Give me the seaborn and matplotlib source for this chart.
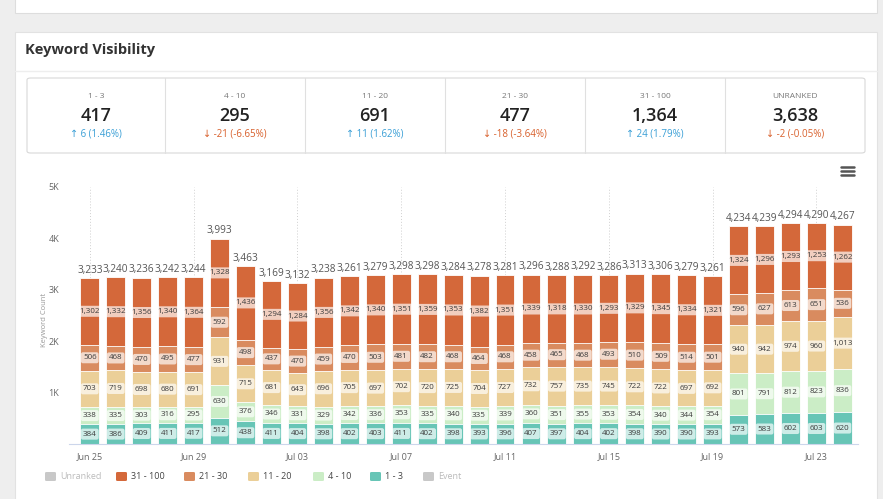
import numpy as np
import pandas as pd
import seaborn as sns
import matplotlib.pyplot as plt
from matplotlib.patches import Rectangle, FancyBboxPatch
from matplotlib.lines import Line2D
from matplotlib.ticker import FuncFormatter

W, H = 883, 499

# keyword counts per ranking bucket, one value per day (Jun 25 - Jul 24)
rank_1_3 = [384, 386, 409, 411, 417, 512, 438, 411, 404, 398, 402, 403, 411, 402, 398,
            393, 396, 407, 397, 404, 402, 398, 390, 390, 393, 573, 583, 602, 603, 620]
rank_4_10 = [338, 335, 303, 316, 295, 630, 376, 346, 331, 329, 342, 336, 353, 335, 340,
             335, 339, 360, 351, 355, 353, 354, 340, 344, 354, 801, 791, 812, 823, 836]
rank_11_20 = [703, 719, 698, 680, 691, 931, 715, 681, 643, 696, 705, 697, 702, 720, 725,
              704, 727, 732, 757, 735, 745, 722, 722, 697, 692, 940, 942, 974, 960, 1013]
rank_21_30 = [506, 468, 470, 495, 477, 592, 498, 437, 470, 459, 470, 503, 481, 482, 468,
              464, 468, 458, 465, 468, 493, 510, 509, 514, 501, 596, 627, 613, 651, 536]
rank_31_100 = [1302, 1332, 1356, 1340, 1364, 1328, 1436, 1294, 1284, 1356, 1342, 1340, 1351, 1359, 1353,
               1382, 1351, 1339, 1318, 1330, 1293, 1329, 1345, 1334, 1321, 1324, 1296, 1293, 1253, 1262]

tick_pos = [0, 4, 8, 12, 16, 20, 24, 28]
tick_labels = ["Jun 25", "Jun 29", "Jul 03", "Jul 07", "Jul 11", "Jul 15", "Jul 19", "Jul 23"]

summary_labels = ["1 - 3", "4 - 10", "11 - 20", "21 - 30", "31 - 100", "UNRANKED"]
summary_values = [417, 295, 691, 477, 1364, 3638]
summary_changes = [6, -21, 11, -18, 24, -2]
summary_pcts = [1.46, -6.65, 1.62, -3.64, 1.79, -0.05]

ranks = ["1 - 3", "4 - 10", "11 - 20", "21 - 30", "31 - 100"]
colors = {"31 - 100": "#d4683a", "21 - 30": "#d98b5f", "11 - 20": "#ebcf98",
          "4 - 10": "#cbedc6", "1 - 3": "#67c5b6"}


def fx(x):
    return x / W


def fy(y):
    return 1 - y / H


def main():
    df = pd.DataFrame({
        "1 - 3": rank_1_3,
        "4 - 10": rank_4_10,
        "11 - 20": rank_11_20,
        "21 - 30": rank_21_30,
        "31 - 100": rank_31_100,
    })
    df["day"] = pd.date_range("2018-06-25", periods=len(df)).strftime("%b %d")

    sns.set_style("white")
    plt.rcParams["font.family"] = ["Open Sans", "DejaVu Sans"]

    fig = plt.figure(figsize=(W / 100, H / 100), dpi=100)
    fig.patch.set_facecolor("#eeeeee")

    # dashboard cards
    fig.patches.append(Rectangle((fx(15), fy(13)), fx(862), 20 / H, transform=fig.transFigure,
                                 facecolor="white", edgecolor="#dddddd", lw=0.8, zorder=-5))
    fig.patches.append(Rectangle((fx(15), fy(505)), fx(862), 473 / H, transform=fig.transFigure,
                                 facecolor="white", edgecolor="#e2e2e2", lw=0.8, zorder=-5))
    fig.lines.append(Line2D([fx(15), fx(877)], [fy(71), fy(71)], transform=fig.transFigure,
                            color="#eeeeee", lw=1))
    fig.text(fx(25), fy(50), "Keyword Visibility", fontsize=10.5, fontweight="bold",
             color="#333333", va="center")

    # summary strip
    fig.patches.append(FancyBboxPatch((fx(27), fy(153)), fx(838), 75 / H, transform=fig.transFigure,
                                      boxstyle="round,pad=0,rounding_size=0.004",
                                      facecolor="white", edgecolor="#d8d8d8", lw=0.8))
    dividers = [165, 305, 445, 585, 725]
    for d in dividers:
        fig.lines.append(Line2D([fx(d), fx(d)], [fy(78), fy(153)], transform=fig.transFigure,
                                color="#e0e0e0", lw=0.8))
    edges = [27] + dividers + [865]
    for i, lab in enumerate(summary_labels):
        cx = (edges[i] + edges[i + 1]) / 2
        fig.text(fx(cx), fy(96), lab, fontsize=6, color="#777777", ha="center", va="center")
        fig.text(fx(cx), fy(116), f"{summary_values[i]:,}", fontsize=13, fontweight="semibold",
                 color="#222222", ha="center", va="center")
        ch = summary_changes[i]
        up = ch > 0
        arrow = "↑" if up else "↓"
        col = "#3a9fd6" if up else "#d8602c"
        fig.text(fx(cx), fy(134), f"{arrow} {ch} ({summary_pcts[i]:.2f}%)", fontsize=7,
                 color=col, ha="center", va="center")

    # chart
    ax = fig.add_axes([fx(69), fy(444), fx(858 - 69), (444 - 187) / H])
    ax.set_zorder(5)
    ax.patch.set_alpha(0)

    cums = []
    cum = np.zeros(len(df))
    for r in ranks:
        cum = cum + df[r].to_numpy()
        cums.append(cum.copy())

    for r, c in reversed(list(zip(ranks, cums))):
        sns.barplot(x=df["day"], y=c, color=colors[r], width=0.73, errorbar=None,
                    saturation=1, edgecolor="white", linewidth=0.6, ax=ax)

    for t in tick_pos:
        ax.axvline(t, color="#cfcfcf", lw=0.7, ls=(0, (1, 2)), zorder=0)

    bottoms = np.zeros(len(df))
    for r in ranks:
        vals = df[r].to_numpy()
        for i, v in enumerate(vals):
            ax.text(i, bottoms[i] + v / 2, f"{v:,}", ha="center", va="center", fontsize=5.8,
                    color="#3c3c3c", zorder=5,
                    bbox=dict(boxstyle="round,pad=0.25", fc="white", ec="none", alpha=0.68))
        bottoms = bottoms + vals
    for i, tot in enumerate(bottoms):
        ax.text(i, tot + 45, f"{int(tot):,}", ha="center", va="bottom", fontsize=7.2,
                color="#555555", zorder=5)

    ax.set_xlim(-0.8, 29.6)
    ax.set_ylim(0, 5000)
    ax.set_yticks([1000, 2000, 3000, 4000, 5000])
    ax.yaxis.set_major_formatter(FuncFormatter(lambda v, p: f"{int(v / 1000)}K"))
    ax.set_xticks(tick_pos)
    ax.set_xticklabels(tick_labels)
    ax.set_xlabel("")
    ax.set_ylabel("")
    for s in ["top", "right", "left"]:
        ax.spines[s].set_visible(False)
    ax.spines["bottom"].set_color("#ccd6eb")
    ax.spines["bottom"].set_linewidth(0.8)
    ax.tick_params(axis="y", length=5, color="#cccccc", labelsize=6.5, labelcolor="#666666", pad=2)
    ax.tick_params(axis="x", length=2, color="#cccccc", labelsize=6.5, labelcolor="#666666", pad=4)

    fig.text(fx(44), fy(320), "Keyword Count", rotation=90, fontsize=5.5, color="#999999",
             ha="center", va="center")

    # menu icon
    for yy in [167, 171, 175]:
        fig.lines.append(Line2D([fx(841), fx(854)], [fy(yy), fy(yy)], transform=fig.transFigure,
                                color="#555555", lw=1.8))

    # legend
    legend_items = [("Unranked", "#c8c8c8", 45, "#bbbbbb"), ("31 - 100", colors["31 - 100"], 116, "#444444"),
                    ("21 - 30", colors["21 - 30"], 184, "#444444"), ("11 - 20", colors["11 - 20"], 248, "#444444"),
                    ("4 - 10", colors["4 - 10"], 313, "#444444"), ("1 - 3", colors["1 - 3"], 370, "#444444"),
                    ("Event", "#c8c8c8", 423, "#bbbbbb")]
    for lab, c, x0, tc in legend_items:
        fig.patches.append(FancyBboxPatch((fx(x0), fy(481)), fx(11), 9 / H, transform=fig.transFigure,
                                          boxstyle="round,pad=0,rounding_size=0.002",
                                          facecolor=c, edgecolor="none"))
        fig.text(fx(x0 + 15), fy(476.5), lab, fontsize=6.5, color=tc, va="center")

    fig.savefig("out.png", dpi=100, facecolor=fig.get_facecolor())


if __name__ == "__main__":
    main()
